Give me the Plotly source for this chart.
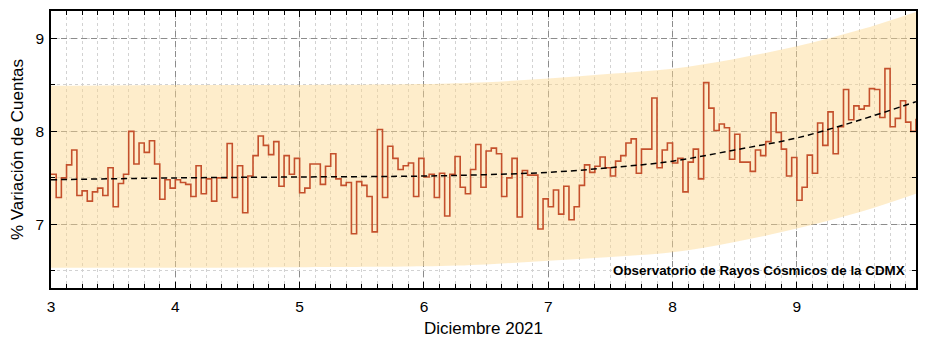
import numpy as np
import plotly.graph_objects as go

# Hourly count variation (%) for 3-9 December 2021, one list per day
day3 = [7.54, 7.29, 7.50, 7.64, 7.80, 7.31, 7.36, 7.25, 7.35, 7.39, 7.31, 7.61,
        7.19, 7.44, 7.54, 8.00, 7.65, 7.875, 7.775, 7.90, 7.65, 7.27, 7.48, 7.39]
day4 = [7.48, 7.45, 7.43, 7.30, 7.63, 7.33, 7.49, 7.25, 7.50, 7.50, 7.87, 7.29,
        7.63, 7.125, 7.52, 7.74, 7.95, 7.85, 7.75, 7.89, 7.41, 7.74, 7.54, 7.71]
day5 = [7.34, 7.39, 7.65, 7.65, 7.43, 7.625, 7.76, 7.49, 7.42, 7.45, 6.90, 7.46,
        7.42, 7.30, 6.92, 8.02, 7.29, 7.84, 7.71, 7.59, 7.63, 7.66, 7.30, 7.71]
day6 = [7.51, 7.54, 7.29, 7.55, 7.09, 7.54, 7.73, 7.40, 7.33, 7.59, 7.86, 7.40,
        7.79, 7.82, 7.76, 7.30, 7.50, 7.71, 7.08, 7.58, 7.53, 7.53, 6.95, 7.275]
day7 = [7.19, 7.37, 7.11, 7.41, 7.05, 7.19, 7.42, 7.64, 7.56, 7.625, 7.725, 7.61,
        7.52, 7.68, 7.74, 7.875, 7.92, 7.55, 7.81, 7.81, 8.36, 7.61, 7.80, 7.875]
day8 = [7.66, 7.71, 7.35, 7.67, 7.81, 7.49, 8.525, 8.25, 8.01, 8.08, 8.04, 7.70,
        7.97, 7.67, 7.67, 7.57, 7.80, 7.74, 7.89, 8.20, 7.99, 7.81, 7.52, 7.72]
day9 = [7.26, 7.40, 7.745, 7.55, 8.09, 7.85, 8.21, 7.76, 8.05, 8.45, 8.125, 8.275,
        8.24, 8.275, 8.46, 8.45, 8.15, 8.675, 8.05, 8.14, 8.33, 8.10, 8.00, 8.135]

variation = day3 + day4 + day5 + day6 + day7 + day8 + day9
first_day = 3
hour_x = first_day + np.arange(len(variation)) / 24.0

# Trend curve and its confidence band
trend_x = [3.0, 4.0, 5.0, 6.0, 6.5, 7.0, 7.5, 8.0, 8.5, 9.0, 9.5, 9.958]
trend_y = [7.48, 7.50, 7.51, 7.52, 7.535, 7.56, 7.61, 7.68, 7.80, 7.93, 8.12, 8.32]
band_upper = [8.49, 8.50, 8.50, 8.51, 8.53, 8.57, 8.62, 8.675, 8.78, 8.915, 9.09, 9.285]
band_lower = [6.535, 6.535, 6.54, 6.55, 6.57, 6.61, 6.65, 6.70, 6.81, 6.955, 7.13, 7.33]

x_ticks = [3, 4, 5, 6, 7, 8, 9]
y_ticks = [7, 8, 9]

FONT = "Liberation Sans, Arial, sans-serif"

fig = go.Figure()

fig.add_trace(go.Scatter(
    x=trend_x, y=band_upper, mode="lines", line=dict(width=0, shape="spline"),
    hoverinfo="skip", showlegend=False))
fig.add_trace(go.Scatter(
    x=trend_x, y=band_lower, mode="lines", line=dict(width=0, shape="spline"),
    fill="tonexty", fillcolor="rgba(252,214,140,0.45)",
    hoverinfo="skip", showlegend=False))

fig.add_trace(go.Scatter(
    x=hour_x, y=variation, mode="lines",
    line=dict(color="#C4502C", width=1.6, shape="hv"),
    showlegend=False))

fig.add_trace(go.Scatter(
    x=trend_x, y=trend_y, mode="lines",
    line=dict(color="black", width=1.5, dash="6px,4px", shape="spline"),
    showlegend=False))

fig.add_annotation(
    text="<b>Observatorio de Rayos Cósmicos de la CDMX</b>",
    xref="paper", x=1, xanchor="right", xshift=-9,
    yref="y", y=6.5, yanchor="middle",
    showarrow=False, font=dict(family=FONT, size=13.4, color="black"))

axis_common = dict(
    showline=True, linecolor="black", linewidth=1.5, mirror="allticks",
    ticks="inside", ticklen=6, tickwidth=1, tickcolor="black",
    showgrid=True, gridcolor="#8c8c8c", gridwidth=1, griddash="6px,4px",
    zeroline=False,
    tickfont=dict(family=FONT, size=15.5, color="black"),
)

fig.update_xaxes(
    **axis_common,
    range=[3, 9.9583], tickvals=x_ticks, ticklabelstandoff=4,
    minor=dict(dtick=0.125, tick0=3, ticks="inside", ticklen=4, tickcolor="black",
               showgrid=True, gridcolor="#d2d2d2", griddash="dot", gridwidth=1),
    title=dict(text="Diciembre 2021", font=dict(family=FONT, size=17, color="black"),
               standoff=8),
)
fig.update_yaxes(
    **axis_common,
    range=[6.316, 9.295], tickvals=y_ticks, ticklabelstandoff=2,
    minor=dict(dtick=0.5, tick0=6.5, ticks="inside", ticklen=4, tickcolor="black",
               showgrid=True, gridcolor="#d2d2d2", griddash="dot", gridwidth=1),
    title=dict(text="% Variación de Cuentas", font=dict(family=FONT, size=17, color="black"),
               standoff=8),
)

fig.update_layout(
    width=927, height=344,
    margin=dict(l=51, r=9, t=10, b=54),
    paper_bgcolor="white", plot_bgcolor="white",
    font=dict(family=FONT, color="black"),
)

fig.write_html("out.html")
